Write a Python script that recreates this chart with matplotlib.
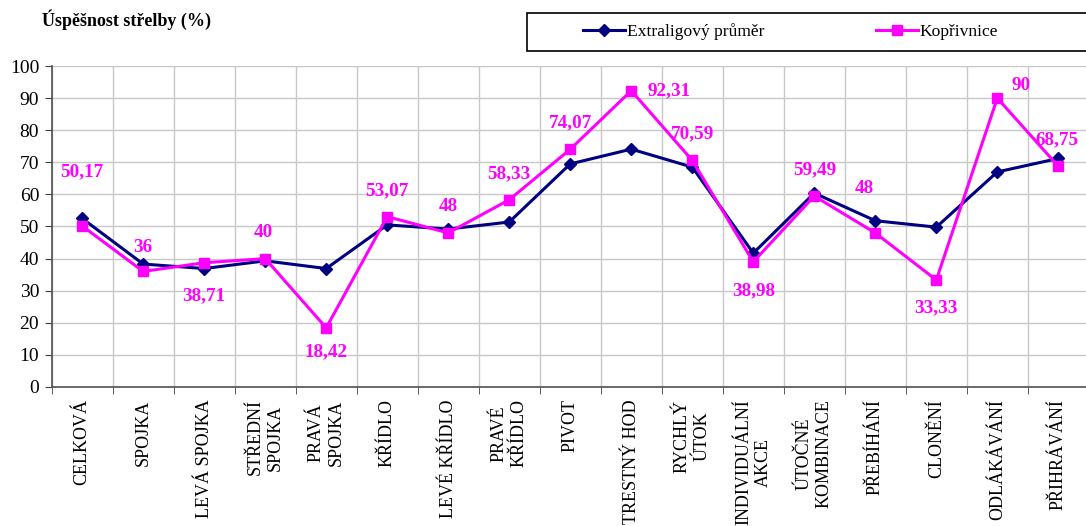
import matplotlib
matplotlib.use('Agg')
import matplotlib.pyplot as plt
from matplotlib.patches import Rectangle
import numpy as np

plt.rcParams['font.family'] = ['Liberation Serif', 'DejaVu Serif']

categories = ['CELKOVÁ', 'SPOJKA', 'LEVÁ SPOJKA', 'STŘEDNÍ\nSPOJKA', 'PRAVÁ\nSPOJKA',
              'KŘÍDLO', 'LEVÉ KŘÍDLO', 'PRAVÉ\nKŘÍDLO', 'PIVOT', 'TRESTNÝ HOD',
              'RYCHLÝ\nÚTOK', 'INDIVIDUÁLNÍ\nAKCE', 'ÚTOČNÉ\nKOMBINACE', 'PŘEBÍHÁNÍ',
              'CLONĚNÍ', 'ODLÁKÁVÁNÍ', 'PŘIHRÁVÁNÍ']
extraliga = [52.5, 38.3, 36.9, 39.3, 36.9, 50.5, 49.2, 51.4, 69.5, 74.1,
             68.5, 41.7, 60.4, 51.8, 49.8, 67.0, 71.2]
koprivnice = [50.17, 36, 38.71, 40, 18.42, 53.07, 48, 58.33, 74.07, 92.31,
              70.59, 38.98, 59.49, 48, 33.33, 90, 68.75]
label_txt = ['50,17', '36', '38,71', '40', '18,42', '53,07', '48', '58,33', '74,07',
             '92,31', '70,59', '38,98', '59,49', '48', '33,33', '90', '68,75']
# label offsets in points (dx, dy) from the marker
offs = [(0, 39), (0, 17), (0, -24), (-1, 19), (0, -17), (0, 19), (0, 19), (0, 19),
        (0, 19), (27, 0), (0, 19), (0, -21), (0, 19), (-8, 32), (0, -20), (17, 9), (-1, 19)]

fig = plt.figure(figsize=(10.86, 5.26), dpi=100)
ax = fig.add_axes([0.0476, 0.2643, 0.955, 0.6102])

x = np.arange(len(categories))
ax.plot(x, extraliga, color='#000080', lw=2.2, marker='D', ms=6.5,
        label='Extraligový průměr', zorder=3)
ax.plot(x, koprivnice, color='#ff00ff', lw=2.2, marker='s', ms=7,
        label='Kopřivnice', zorder=4)

for xi, yi, t, (dx, dy) in zip(x, koprivnice, label_txt, offs):
    ax.annotate(t, (xi, yi), xytext=(dx, dy), textcoords='offset points',
                ha='center', va='center', color='#ff00ff', fontsize=13.8,
                fontweight='bold', zorder=5)

ax.set_xlim(-0.5, len(categories) - 0.5)
ax.set_ylim(0, 100)
ax.set_yticks(np.arange(0, 101, 10))
ax.set_xticks(x)
ax.set_xticklabels(categories, rotation=90, ha='center', va='top',
                   multialignment='center', fontsize=13)
ax.set_xticks(np.arange(-0.5, len(categories), 1), minor=True)
ax.tick_params(axis='x', which='major', length=0, pad=9)
ax.tick_params(axis='x', which='minor', length=5, color='#404040')
ax.tick_params(axis='y', length=5, color='#404040', labelsize=14, pad=4)

ax.grid(True, axis='y', color='#c8c8c8', lw=1)
ax.grid(True, axis='x', which='minor', color='#c8c8c8', lw=1)
ax.set_axisbelow(True)
for s in ['top', 'right']:
    ax.spines[s].set_visible(False)
for s in ['left', 'bottom']:
    ax.spines[s].set_color('#505050')
    ax.spines[s].set_linewidth(1.2)

fig.text(0.039, 0.962, 'Úspěšnost střelby (%)', fontsize=13, fontweight='bold',
         ha='left', va='center')

# legend box
fig.patches.append(Rectangle((0.4853, 0.903), 0.53, 0.0722, transform=fig.transFigure,
                             facecolor='white', edgecolor='black', lw=1.2, zorder=1))
leg = fig.legend(loc='center left', bbox_to_anchor=(0.5368, 0.9392), ncol=2,
                 fontsize=12.6, frameon=False, handlelength=2.4, handletextpad=0.1,
                 columnspacing=6.4, borderpad=0, borderaxespad=0)

fig.savefig('out.png', dpi=100)
